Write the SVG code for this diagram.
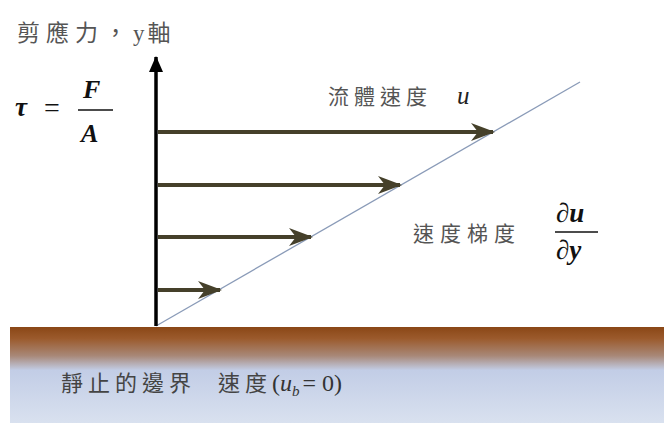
<svg xmlns="http://www.w3.org/2000/svg" width="664" height="423" viewBox="0 0 664 423">
<defs>
<linearGradient id="ground" x1="0" y1="0" x2="0" y2="1">
<stop offset="0" stop-color="#8a4716"/>
<stop offset="0.12" stop-color="#9b5a2c"/>
<stop offset="0.3" stop-color="#a88878"/>
<stop offset="0.45" stop-color="#c2cde6"/>
<stop offset="1" stop-color="#d9e1ef"/>
</linearGradient>
<marker id="flowhead" viewBox="0 0 24 18" refX="22" refY="9" markerWidth="24" markerHeight="18" markerUnits="userSpaceOnUse" orient="auto">
<path d="M0,0 L24,9 L0,18 L7,9 Z" fill="#45402a"/>
</marker>
<marker id="axishead" viewBox="0 0 16 14" refX="15" refY="7" markerWidth="16" markerHeight="14" markerUnits="userSpaceOnUse" orient="auto">
<path d="M0,0 L16,7 L0,14 Z" fill="#000"/>
</marker>
</defs>
<style>
.cjk{font-family:"Noto Sans CJK TC","Noto Sans CJK SC",sans-serif;fill:#555;font-size:21px;letter-spacing:5px}
.math{font-family:"Liberation Serif",serif;font-style:italic;font-weight:bold;fill:#111}
.flow{stroke:#45402a;stroke-width:4;fill:none}
</style>
<rect x="0" y="0" width="664" height="423" fill="#fff"/>
<g id="ground-boundary">
<rect x="10" y="327" width="654" height="96" fill="url(#ground)"/>
<text class="cjk" x="61" y="391" style="fill:#444;font-size:22px">靜止的邊界</text>
<text class="cjk" x="218" y="391" style="fill:#444;font-size:22px">速度</text>
<text x="272" y="391" font-family="Liberation Serif,serif" font-size="24" fill="#333">(<tspan font-style="italic">u</tspan><tspan font-style="italic" font-size="15" dy="5">b</tspan><tspan dy="-5" dx="3">= 0)</tspan></text>
</g>
<g id="connectors">
<line id="velocity-gradient-line" x1="156" y1="326" x2="580" y2="82" stroke="#8a9bb8" stroke-width="1.3"/>
<line id="y-axis" x1="156" y1="326" x2="156" y2="57" stroke="#000" stroke-width="3.5" marker-end="url(#axishead)"/>
<line class="flow" x1="158" y1="132" x2="493" y2="132" marker-end="url(#flowhead)"/>
<line class="flow" x1="158" y1="185" x2="400" y2="185" marker-end="url(#flowhead)"/>
<line class="flow" x1="158" y1="237" x2="311" y2="237" marker-end="url(#flowhead)"/>
<line class="flow" x1="158" y1="290" x2="220" y2="290" marker-end="url(#flowhead)"/>
</g>
<g id="axis-label">
<text class="cjk" x="17" y="41" style="font-size:23px;letter-spacing:6px">剪應力，<tspan font-family="Liberation Serif,serif" letter-spacing="0">y</tspan><tspan dx="3">軸</tspan></text>
</g>
<g id="shear-formula">
<text class="math" x="15" y="116" font-size="27">τ</text>
<text x="44" y="117" font-family="Liberation Serif,serif" font-size="28" fill="#111">=</text>
<text class="math" x="83" y="98" font-size="26">F</text>
<line x1="78" y1="110" x2="113" y2="110" stroke="#111" stroke-width="1.5"/>
<text class="math" x="81" y="142" font-size="26">A</text>
</g>
<g id="fluid-velocity">
<text class="cjk" x="328" y="104">流體速度</text>
<text x="457" y="104" font-family="Liberation Serif,serif" font-style="italic" font-size="25" fill="#222">u</text>
</g>
<g id="velocity-gradient">
<text class="cjk" x="413" y="241" style="letter-spacing:6px">速度梯度</text>
<text class="math" x="556" y="222" font-size="27">∂u</text>
<line x1="555" y1="232" x2="598" y2="232" stroke="#111" stroke-width="1.5"/>
<text class="math" x="556" y="259" font-size="27">∂y</text>
</g>
</svg>
